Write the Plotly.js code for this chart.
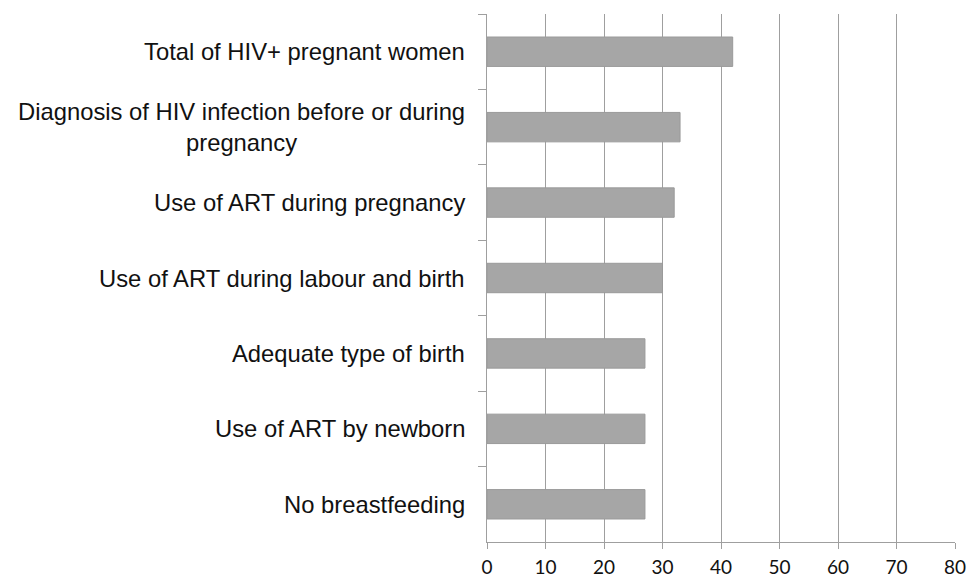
<!DOCTYPE html>
<html>
<head>
<meta charset="utf-8">
<script src="https://cdn.plot.ly/plotly-3.0.1.min.js"></script>
<style>html,body{margin:0;padding:0;background:#fff;}#chart{width:979px;height:580px;}</style>
</head>
<body>
<div id="chart"></div>
<script>
var categories = [
  "Total of HIV+ pregnant women",
  "Diagnosis of HIV infection before or during<br>pregnancy",
  "Use of ART during pregnancy",
  "Use of ART during labour and birth",
  "Adequate type of birth",
  "Use of ART by newborn",
  "No breastfeeding"
];
var values = [42, 33, 32, 30, 27, 27, 27];
var xTicks = [0, 10, 20, 30, 40, 50, 60, 70, 80];

var labelFont = "'Liberation Sans', Arial, sans-serif";
var tickFont = "Lato, 'Liberation Sans', sans-serif";

var trace = {
  type: "bar",
  orientation: "h",
  y: categories,
  x: values,
  marker: {color: "#a6a6a6", line: {color: "#9a9a9a", width: 1}},
  hoverinfo: "x+y"
};

var annotations = categories.map(function(c){
  return {
    text: c, xref: "paper", yref: "y", x: 0, y: c,
    xanchor: "right", yanchor: "middle", align: "center",
    xshift: -20, showarrow: false,
    font: {family: labelFont, size: 23.8, color: "#111"}
  };
});

var layout = {
  width: 979, height: 580,
  margin: {l: 487, r: 24, t: 14, b: 38},
  paper_bgcolor: "#fff", plot_bgcolor: "#fff",
  showlegend: false,
  bargap: 0.61,
  xaxis: {
    range: [0, 80], tickvals: xTicks, ticktext: xTicks.map(String),
    showgrid: true, gridcolor: "#9f9f9f", gridwidth: 1,
    zeroline: false, showline: true, linecolor: "#9f9f9f", linewidth: 1,
    ticks: "outside", ticklen: 6, tickcolor: "#9f9f9f",
    ticklabelstandoff: 2,
    tickfont: {family: tickFont, size: 19, color: "#111"},
    fixedrange: true
  },
  yaxis: {
    type: "category", autorange: "reversed",
    showticklabels: false, showgrid: false, zeroline: false,
    showline: true, linecolor: "#9f9f9f", linewidth: 1,
    ticks: "outside", ticklen: 8, tickcolor: "#9f9f9f", tickson: "boundaries",
    fixedrange: true
  },
  annotations: annotations
};

Plotly.newPlot("chart", [trace], layout, {displayModeBar: false, staticPlot: true});
</script>
</body>
</html>
